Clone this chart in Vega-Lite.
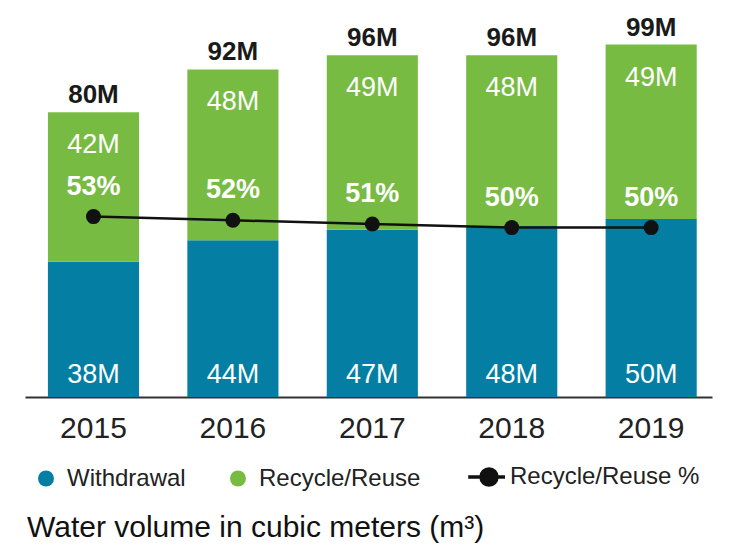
{
  "$schema": "https://vega.github.io/schema/vega-lite/v6.json",
  "width": 687,
  "height": 356,
  "autosize": {"type": "none"},
  "padding": {"left": 25, "top": 41, "right": 19, "bottom": 150},
  "background": "white",
  "datasets": {
    "bars": [
      {"year": "2015", "series": "Withdrawal", "value": 38000000},
      {"year": "2015", "series": "Recycle/Reuse", "value": 42000000},
      {"year": "2016", "series": "Withdrawal", "value": 44000000},
      {"year": "2016", "series": "Recycle/Reuse", "value": 48000000},
      {"year": "2017", "series": "Withdrawal", "value": 47000000},
      {"year": "2017", "series": "Recycle/Reuse", "value": 49000000},
      {"year": "2018", "series": "Withdrawal", "value": 48000000},
      {"year": "2018", "series": "Recycle/Reuse", "value": 48000000},
      {"year": "2019", "series": "Withdrawal", "value": 50000000},
      {"year": "2019", "series": "Recycle/Reuse", "value": 49000000}
    ],
    "years": [
      {"year": "2015", "withdrawal": 38000000, "recycle": 42000000, "total": 80000000, "pct": 0.53},
      {"year": "2016", "withdrawal": 44000000, "recycle": 48000000, "total": 92000000, "pct": 0.52},
      {"year": "2017", "withdrawal": 47000000, "recycle": 49000000, "total": 96000000, "pct": 0.51},
      {"year": "2018", "withdrawal": 48000000, "recycle": 48000000, "total": 96000000, "pct": 0.50},
      {"year": "2019", "withdrawal": 50000000, "recycle": 49000000, "total": 99000000, "pct": 0.50}
    ]
  },
  "title": {
    "text": "Water volume in cubic meters (m³)",
    "orient": "bottom",
    "anchor": "start",
    "frame": "group",
    "font": "Liberation Sans",
    "fontSize": 30,
    "fontWeight": "normal",
    "color": "#111111",
    "baseline": "alphabetic",
    "offset": 45,
    "dx": 2
  },
  "config": {
    "view": {"stroke": null},
    "axisX": {
      "domainColor": "#333333",
      "domainWidth": 2,
      "ticks": false,
      "tickSize": 0,
      "labelFont": "Liberation Sans",
      "labelFontSize": 30,
      "labelColor": "#222222",
      "labelPadding": 16,
      "labelAngle": 0,
      "title": null,
      "grid": false
    }
  },
  "encoding": {
    "x": {
      "field": "year",
      "type": "ordinal",
      "scale": {"paddingInner": 0.3465, "paddingOuter": 0.137, "align": 0.6},
      "axis": {"title": null}
    }
  },
  "layer": [
    {
      "layer": [
        {
          "data": {"name": "bars"},
          "mark": {"type": "bar"},
          "encoding": {
            "y": {"field": "value", "type": "quantitative", "stack": "zero", "scale": {"domain": [0, 100000000], "nice": false}, "axis": null},
            "color": {
              "field": "series",
              "type": "nominal",
              "scale": {"domain": ["Withdrawal", "Recycle/Reuse", "Recycle/Reuse %"], "range": ["#047fa3", "#78bb43", "#111111"]},
              "legend": {
                "orient": "none",
                "legendX": 9,
                "legendY": 424,
                "direction": "horizontal",
                "title": null,
                "symbolType": "circle",
                "symbolSize": 256,
                "labelFont": "Liberation Sans",
                "labelFontSize": 24,
                "labelColor": "#222222",
                "labelOffset": 9,
                "columnPadding": 40,
                "labelLimit": 400,
                "padding": 0,
                "encode": {
                  "symbols": {
                    "update": {
                      "shape": {"signal": "datum.value === 'Recycle/Reuse %' ? 'M-2.6,0H2M-1,0A1,1,0,1,1,1,0A1,1,0,1,1,-1,0Z' : 'circle'"},
                      "fill": {"signal": "scale('color', datum.value)"},
                      "stroke": {"signal": "scale('color', datum.value)"},
                      "strokeWidth": {"signal": "datum.value === 'Recycle/Reuse %' ? 3.5 : 0"},
                      "opacity": {"value": 1}
                    }
                  }
                }
              }
            },
            "order": {"field": "series", "sort": "descending"}
          }
        },
        {
          "data": {"name": "years"},
          "mark": {"type": "text", "font": "Liberation Sans", "fontSize": 27, "color": "white", "baseline": "alphabetic", "dy": -14},
          "encoding": {
            "y": {"datum": 0, "type": "quantitative", "axis": null},
            "text": {"field": "withdrawal", "type": "quantitative", "format": ".2s"}
          }
        },
        {
          "data": {"name": "years"},
          "mark": {"type": "text", "font": "Liberation Sans", "fontSize": 27, "color": "white", "baseline": "alphabetic", "dy": 41},
          "encoding": {
            "y": {"field": "total", "type": "quantitative", "axis": null},
            "text": {"field": "recycle", "type": "quantitative", "format": ".2s"}
          }
        },
        {
          "data": {"name": "years"},
          "mark": {"type": "text", "font": "Liberation Sans", "fontSize": 26, "fontWeight": "bold", "color": "#1a1a1a", "baseline": "alphabetic", "dy": -9},
          "encoding": {
            "y": {"field": "total", "type": "quantitative", "axis": null},
            "text": {"field": "total", "type": "quantitative", "format": ".2s"}
          }
        }
      ]
    },
    {
      "data": {"name": "years"},
      "encoding": {
        "y": {"field": "pct", "type": "quantitative", "scale": {"domain": [0.038, 1.009], "nice": false, "zero": false}, "axis": null}
      },
      "layer": [
        {"mark": {"type": "line", "color": "#111111", "strokeWidth": 2.5}},
        {"mark": {"type": "point", "filled": true, "size": 225, "color": "#111111", "opacity": 1}},
        {
          "mark": {"type": "text", "font": "Liberation Sans", "fontSize": 27, "fontWeight": "bold", "color": "white", "baseline": "alphabetic", "dy": -22},
          "encoding": {"text": {"field": "pct", "type": "quantitative", "format": ".0%"}}
        }
      ]
    }
  ],
  "resolve": {"scale": {"y": "independent"}}
}
